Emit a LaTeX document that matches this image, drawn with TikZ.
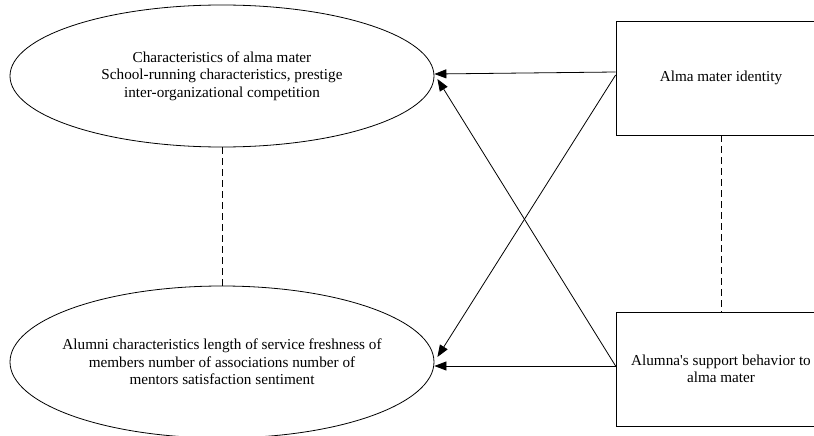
\documentclass[tikz,border=0pt]{standalone}
\usepackage{fontspec}
\setmainfont{Liberation Serif}[Ligatures=TeXOff]
\usetikzlibrary{arrows.meta, positioning, shapes.geometric}

\begin{document}
\begin{tikzpicture}[
  x=1pt, y=-1pt,
  line width=0.8pt,
  oval/.style={draw, ellipse, minimum width=424pt, minimum height=142pt,
               inner xsep=-60pt, inner ysep=0pt, align=center,
               font=\fontsize{15.2}{17.5}\selectfont},
  box/.style={draw, rectangle, minimum width=210pt, minimum height=114pt,
              inner sep=2pt, align=center, font=\fontsize{15.2}{17.5}\selectfont},
  arrow/.style={-{Triangle[length=12pt, width=9pt]}},
]
  \useasboundingbox (0,0) rectangle (814,436);

  \node[oval] (alma) at (222,76)
    {Characteristics of alma mater\\School-running characteristics, prestige\\inter-organizational competition};
  \node[oval, minimum height=152pt] (alumni) at (222,362)
    {Alumni characteristics length of service freshness of\\members number of associations number of\\mentors satisfaction sentiment};
  \node[box] (ident) at (721,78) {Alma mater identity};
  \node[box] (support) at (721,369)
    {Alumna's support behavior to\\alma mater};

  \draw[dash pattern=on 7pt off 4pt] (alma)  -- (alumni);
  \draw[dash pattern=on 7pt off 4pt] (ident) -- (support);

  \draw[arrow] ([yshift=6pt]ident.west)   -- ([yshift=2pt]alma.east);
  \draw[arrow] ([yshift=3pt]ident.west)   -- ([yshift=5pt,xshift=3pt]alumni.east);
  \draw[arrow] ([yshift=3pt]support.west) -- ([yshift=-3pt,xshift=3pt]alma.east);
  \draw[arrow] ([yshift=3pt]support.west) -- ([yshift=-4pt]alumni.east);
\end{tikzpicture}
\end{document}
